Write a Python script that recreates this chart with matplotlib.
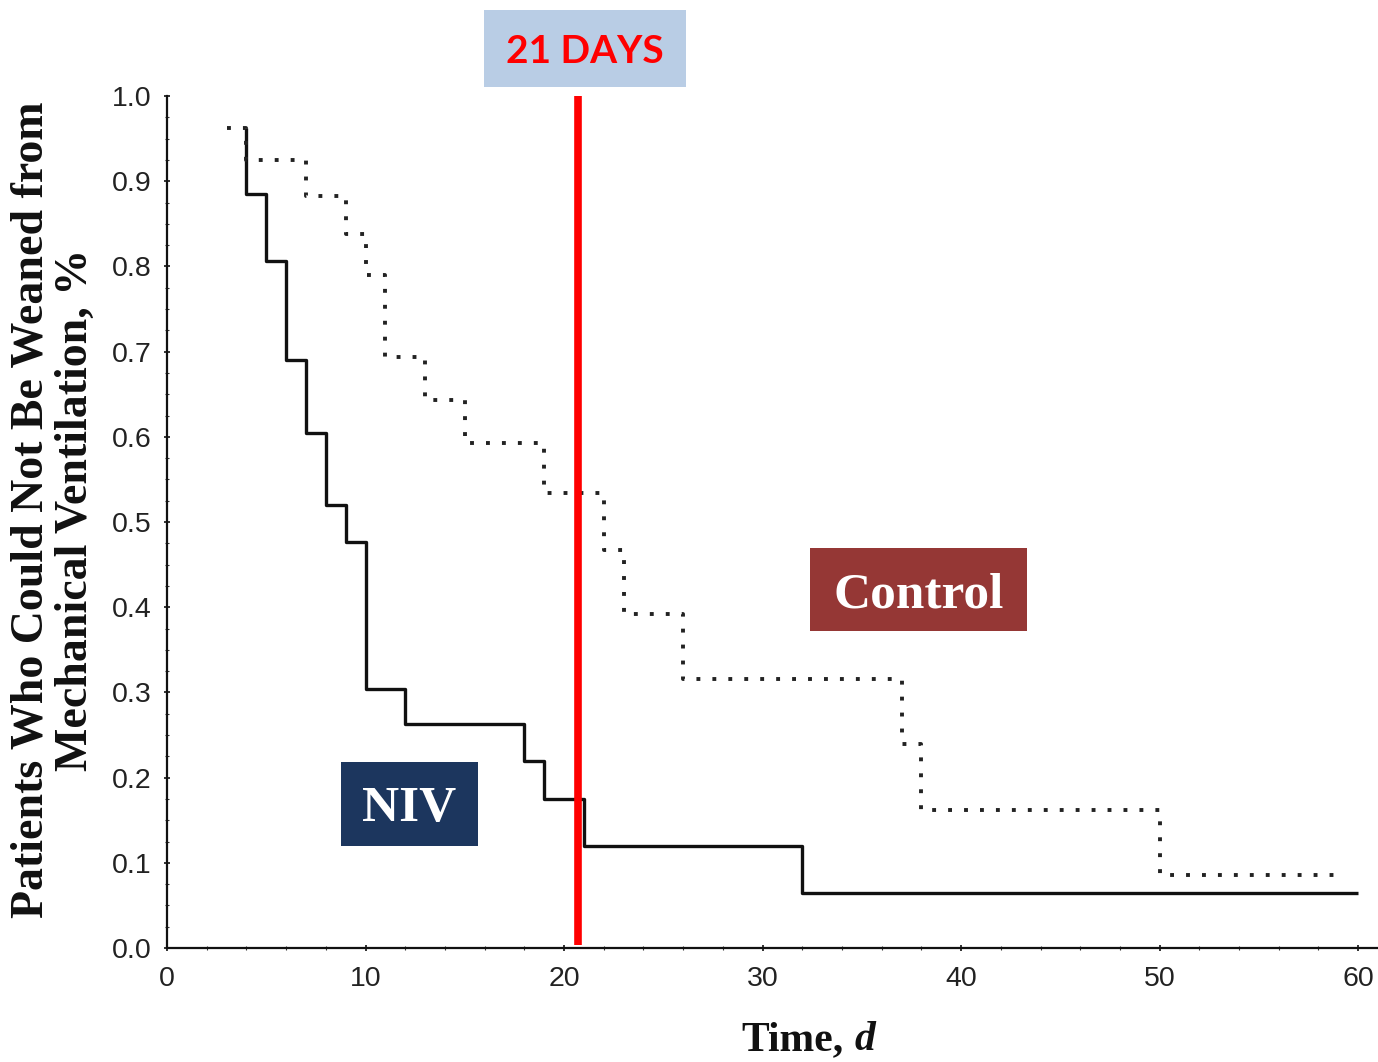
import matplotlib
matplotlib.use('Agg')
import matplotlib.pyplot as plt
from matplotlib.patches import Rectangle
from matplotlib.ticker import MultipleLocator

# step data (time in days, fraction not weaned)
niv_days = [4, 4, 5, 6, 7, 8, 9, 10, 12, 18, 19, 21, 32, 60]
niv_frac = [0.962, 0.885, 0.806, 0.69, 0.605, 0.52, 0.477, 0.304, 0.263,
            0.22, 0.175, 0.12, 0.065, 0.065]

ctrl_days = [3, 4, 7, 9, 10, 11, 13, 15, 19, 22, 23, 26, 37, 38, 50, 59.3]
ctrl_frac = [0.962, 0.925, 0.883, 0.838, 0.79, 0.694, 0.643, 0.593, 0.534,
             0.467, 0.392, 0.316, 0.24, 0.162, 0.086, 0.086]

cutoff_day = 20.7
x_ticks = [0, 10, 20, 30, 40, 50, 60]
y_ticks = [0.0, 0.1, 0.2, 0.3, 0.4, 0.5, 0.6, 0.7, 0.8, 0.9, 1.0]

W, H = 1378, 1062
fig = plt.figure(figsize=(W / 100, H / 100), dpi=100)

def fx(px):
    return px / W

def fy(py):
    return 1 - py / H

ax = fig.add_axes([fx(167), fy(948), fx(1378) - fx(167), fy(96) - fy(948)])

ax.step(niv_days, niv_frac, where='post', color='#111111', lw=2.4,
        solid_capstyle='butt', zorder=3)
ax.step(ctrl_days, ctrl_frac, where='post', color='#222222', lw=2.8,
        linestyle=(0, (1, 3.1)), zorder=3)
ax.plot([cutoff_day, cutoff_day], [0.003, 1.0], color='#FF0000', lw=5.5,
        solid_capstyle='butt', zorder=4)

ax.set_xlim(0, 61)
ax.set_ylim(0, 1.0)
ax.set_xticks(x_ticks)
ax.set_yticks(y_ticks)
ax.set_yticklabels([f'{v:.1f}' for v in y_ticks])
ax.yaxis.set_minor_locator(MultipleLocator(0.025))
ax.xaxis.set_minor_locator(MultipleLocator(2))

for s in ['top', 'right']:
    ax.spines[s].set_visible(False)
for s in ['left', 'bottom']:
    ax.spines[s].set_linewidth(1.6)
    ax.spines[s].set_color('#111111')

ax.tick_params(axis='both', which='major', labelsize=20.5, width=1.2,
               length=4, direction='inout', colors='#111111')
ax.tick_params(axis='both', which='minor', width=0.8, length=2.5,
               direction='inout', colors='#333333')
ax.tick_params(axis='y', pad=9)
ax.tick_params(axis='x', pad=11)
for lab in ax.get_xticklabels() + ax.get_yticklabels():
    lab.set_family('Liberation Sans')
    lab.set_color('#222222')

# axis titles
fig.text(fx(54), fy(510),
         'Patients Who Could Not Be Weaned from\nMechanical Ventilation, %',
         rotation=90, ha='center', va='center', multialignment='center',
         family='Liberation Serif', fontweight='bold', fontsize=33,
         linespacing=1.08, color='#111111')
t_label = fig.text(fx(741), fy(1040), 'Time,', ha='left', va='center',
                   family='Liberation Serif', fontweight='bold', fontsize=30,
                   color='#111111')
ax.annotate('d', xy=(1, 0), xycoords=t_label, xytext=(8, 0),
            textcoords='offset points', ha='left', va='bottom',
            family='Liberation Serif', fontweight='bold', style='italic',
            fontsize=30, color='#111111', annotation_clip=False)

# labelled boxes
def label_box(x0, y0, x1, y1, face, text, tcolor, family, size):
    fig.patches.append(Rectangle((fx(x0), fy(y1)), fx(x1) - fx(x0),
                                 fy(y0) - fy(y1), transform=fig.transFigure,
                                 facecolor=face, edgecolor='none', zorder=5))
    fig.text(fx((x0 + x1) / 2), fy((y0 + y1) / 2), text, ha='center',
             va='center_baseline', color=tcolor, family=family,
             fontweight='bold', fontsize=size, zorder=6)

label_box(484, 10, 686, 87, '#B9CDE5', '21 DAYS', '#FF0000', 'Lato', 28)
label_box(810, 548, 1027, 631, '#953735', 'Control', 'white',
          'Liberation Serif', 37)
label_box(341, 762, 478, 846, '#1C365E', 'NIV', 'white',
          'Liberation Serif', 37)

fig.savefig('out.png', dpi=100)
print('OK')
